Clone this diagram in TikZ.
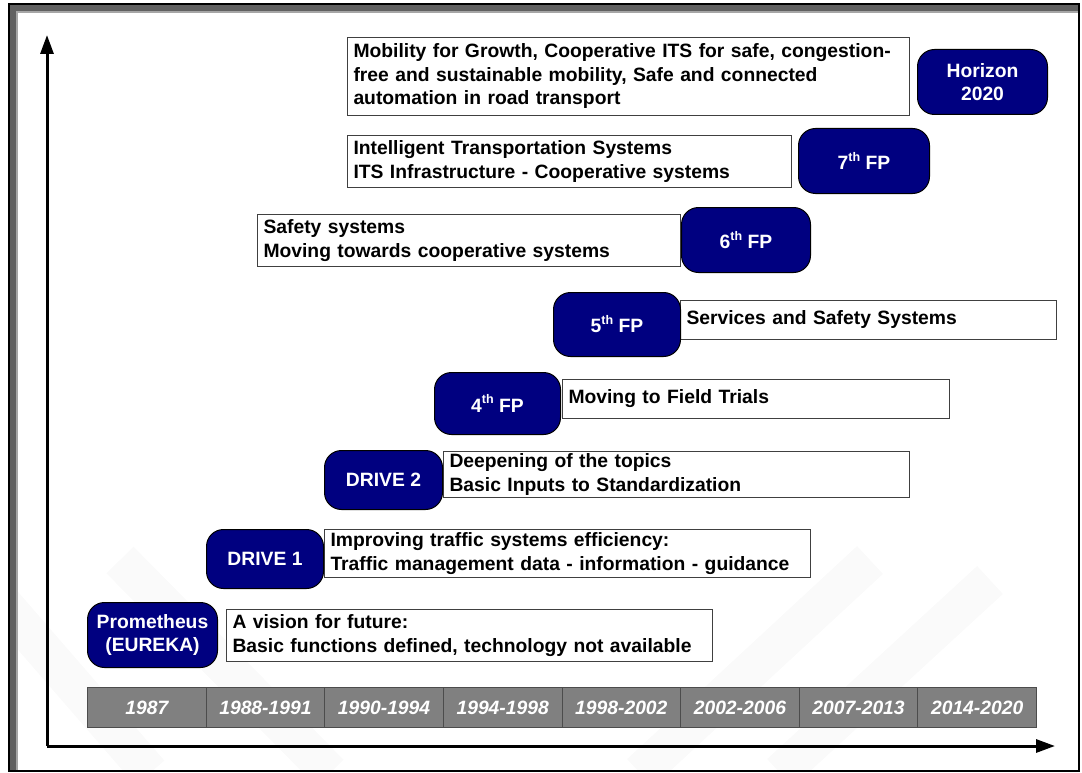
\documentclass[tikz,border=0pt]{standalone}
\usepackage{fontspec}
\setmainfont{Liberation Sans}
\usepackage{tikz}
\usetikzlibrary{arrows.meta}

\definecolor{navy}{RGB}{0,0,128}
\definecolor{framegray}{RGB}{96,96,96}
\definecolor{cellgray}{RGB}{128,128,128}
\newcommand\boxfont{\fontsize{19.3}{23.5}\selectfont\bfseries}
\newcommand\ordth[1]{\raisebox{0.42em}{\fontsize{12.5}{12.5}\selectfont #1}}

\tikzset{
	txtbox/.style={draw=black!75,line width=1pt,fill=white,anchor=north west,
		inner xsep=6pt,inner ysep=0pt,align=left,font=\boxfont},
	navybox/.style={draw=black,line width=1pt,fill=navy,text=white,anchor=north west,
		rounded corners=17pt,inner sep=0pt,align=center,font=\boxfont},
	yearcell/.style={draw=black!70,line width=1pt,fill=cellgray,text=white,anchor=north west,
		minimum width=118.625pt,minimum height=40pt,inner sep=0pt,
		font=\boxfont\itshape},
	wmark/.style={line width=38pt,gray!4}
}

\begin{document}
\begin{tikzpicture}[x=1pt,y=-1pt]
	\useasboundingbox (0,0) rectangle (1082,773);
	\coordinate (origin) at (47,746);
	\coordinate (ytip) at (47,35);
	\coordinate (xtip) at (1055,746);
	
	% watermark
	\begin{scope}
		\clip (18,13) rectangle (1078,770);
		\draw[wmark] (0,600)--(150,773)
		(120,560)--(330,773)
		(640,773)--(870,560)
		(780,773)--(990,580);
	\end{scope}
	
	% frame
	\fill[framegray] (9,4)--(1079,4)--(1079,11)--(16,11)--(16,771)--(9,771)--cycle;
	\draw[black!35,line width=2pt] (17,771)--(17,12)--(1079,12);
	\draw[line width=1.5pt] (9,4) rectangle (1079,771);
	
	% axes
	\draw[line width=3pt,-{Triangle[length=19pt,width=13pt]}] (origin)--(ytip);
	\draw[line width=3pt,-{Triangle[length=19pt,width=13pt]}] (origin)--(xtip);
	
	% time line
	\foreach \yr [count=\i] in {1987,1988-1991,1990-1994,1994-1998,1998-2002,2002-2006,2007-2013,2014-2020}
	\node[yearcell] (year\i) at ({87+(\i-1)*118.625},687) {\yr};
	
	% topics
	\node[txtbox,text width=474pt,minimum height=52pt] (vision) at (226,609)
	{A vision for future:\\Basic functions defined, technology not available};
	\node[txtbox,text width=474pt,minimum height=48pt] (improve) at (324,529)
	{Improving traffic systems efficiency:\\Traffic management data - information - guidance};
	\node[txtbox,text width=454pt,minimum height=46pt] (deepen) at (443,451)
	{Deepening of the topics\\Basic Inputs to Standardization};
	\node[txtbox,text width=375pt,minimum height=39pt] (trials) at (562,379)
	{Moving to Field Trials};
	\node[txtbox,text width=364pt,minimum height=39pt] (services) at (680,300)
	{Services and Safety Systems};
	\node[txtbox,text width=411pt,minimum height=52pt] (safety) at (257,214)
	{Safety systems\\Moving towards cooperative systems};
	\node[txtbox,text width=432pt,minimum height=52pt] (its) at (347,135)
	{Intelligent Transportation Systems\\ITS Infrastructure - Cooperative systems};
	\node[txtbox,text width=550pt,minimum height=78pt] (mobility) at (347,37)
	{Mobility for Growth, Cooperative ITS for safe, congestion-\\free and sustainable mobility, Safe and connected\\automation in road transport};
	
	% programmes
	\node[navybox,minimum width=130pt,minimum height=65pt] (prometheus) at (87,602) {Prometheus\\(EUREKA)};
	\node[navybox,minimum width=117pt,minimum height=59pt] (driveone) at (206,529) {DRIVE 1};
	\node[navybox,minimum width=118pt,minimum height=59pt] (drivetwo) at (324,450) {DRIVE 2};
	\node[navybox,minimum width=126pt,minimum height=62pt] (fpfour) at (434,372) {4\ordth{th} FP};
	\node[navybox,minimum width=127pt,minimum height=64pt] (fpfive) at (553,292) {5\ordth{th} FP};
	\node[navybox,minimum width=129pt,minimum height=65pt] (fpsix) at (681,207) {6\ordth{th} FP};
	\node[navybox,minimum width=131pt,minimum height=65pt] (fpseven) at (798,128) {7\ordth{th} FP};
	\node[navybox,minimum width=130pt,minimum height=65pt] (horizon) at (917,49) {Horizon\\2020};
\end{tikzpicture}
\end{document}
